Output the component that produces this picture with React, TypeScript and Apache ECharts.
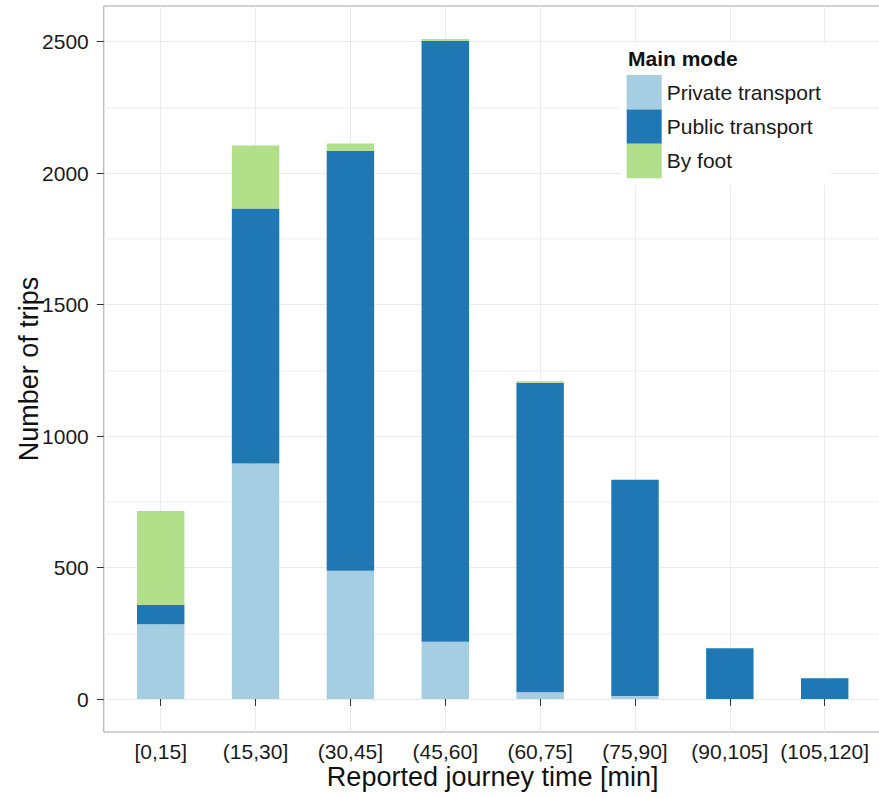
import React, { useEffect, useRef } from "react";
import * as echarts from "echarts";

// ---- data ----
const categories = ["[0,15]", "(15,30]", "(30,45]", "(45,60]", "(60,75]", "(75,90]", "(90,105]", "(105,120]"];
const seriesNames = ["Private transport", "Public transport", "By foot"];
const privateTransport = [284, 896, 488, 218, 26, 11, 0, 0];
const publicTransport = [74, 970, 1597, 2286, 1177, 822, 193, 79];
const byFoot = [357, 239, 28, 6, 6, 3, 0, 0];
const yTickMax = 3000;
const yTickStep = 500;

// ---- layout / style ----
const FONT = "'Liberation Sans', Arial, Helvetica, sans-serif";
const COLORS = ["#a6cee3", "#1f78b4", "#b2df8a"];
const PANEL_LEFT = 103.8;
const PANEL_RIGHT = 881.6;
const PANEL_TOP = 6;
const PANEL_BOTTOM = 732;
const ZERO_Y = 699;
const Y2500 = 41.7;
const K = (ZERO_Y - Y2500) / 2500; // px per unit
const FIRST_X = 160.7;
const STEP = 94.857;

export default function App() {
  const ref = useRef<HTMLDivElement>(null);

  useEffect(() => {
    if (!ref.current) return;
    const chart = echarts.init(ref.current, null, { renderer: "svg" });

    const textColor = "#1a1a1a";
    const gridA = {
      left: PANEL_LEFT,
      width: PANEL_RIGHT - PANEL_LEFT,
      top: ZERO_Y - yTickMax * K,
      height: yTickMax * K,
      outerBoundsMode: "none",
    };
    const gridB = {
      left: FIRST_X,
      width: STEP * (categories.length - 1),
      top: PANEL_TOP,
      height: PANEL_BOTTOM - PANEL_TOP,
      outerBoundsMode: "none",
    };
    const gridD = {
      left: PANEL_LEFT,
      width: PANEL_RIGHT - PANEL_LEFT,
      top: PANEL_TOP,
      height: PANEL_BOTTOM - PANEL_TOP,
      show: true,
      borderColor: "#a3a3a3",
      borderWidth: 1,
      backgroundColor: "transparent",
      outerBoundsMode: "none",
    };

    const mk = (name: string, data: number[], i: number) => ({
      name,
      type: "bar",
      stack: "total",
      xAxisIndex: 2,
      yAxisIndex: 2,
      data,
      barWidth: "50%",
      clip: false,
      itemStyle: { color: COLORS[i] },
      emphasis: { disabled: true },
    });

    chart.setOption({
      animation: false,
      textStyle: { fontFamily: FONT },
      title: {
        text: "Main mode",
        left: 628,
        top: 48,
        padding: 0,
        textStyle: { fontFamily: FONT, fontSize: 21, fontWeight: "bold", color: "#111" },
      },
      legend: {
        orient: "vertical",
        left: 620,
        top: 43,
        padding: [32, 9, 7, 6.7],
        itemGap: 0,
        itemWidth: 35,
        itemHeight: 34.4,
        icon: "rect",
        backgroundColor: "#ffffff",
        selectedMode: false,
        data: seriesNames,
        textStyle: { fontFamily: FONT, fontSize: 21, color: textColor },
      },
      grid: [gridD, gridA, gridB],
      xAxis: [
        {
          gridIndex: 0,
          type: "value",
          name: "Reported journey time [min]",
          nameLocation: "middle",
          nameGap: 31,
          nameTextStyle: { fontFamily: FONT, fontSize: 27, color: "#111" },
          axisLine: { show: false },
          axisTick: { show: false },
          axisLabel: { show: false },
          splitLine: { show: false },
        },
        { gridIndex: 1, type: "value", show: false },
        {
          gridIndex: 2,
          type: "category",
          data: categories,
          boundaryGap: false,
          axisLine: { show: false },
          axisTick: { show: true, length: 7, lineStyle: { color: "#333", width: 1 } },
          axisLabel: { interval: 0, fontSize: 21, color: textColor, margin: 9, fontFamily: FONT },
          splitLine: { show: true, lineStyle: { color: "#ebebeb", width: 1 } },
        },
      ],
      yAxis: [
        {
          gridIndex: 0,
          type: "value",
          name: "Number of trips",
          nameLocation: "middle",
          nameGap: 61,
          nameTextStyle: { fontFamily: FONT, fontSize: 27, color: "#111" },
          axisLine: { show: false },
          axisTick: { show: false },
          axisLabel: { show: false },
          splitLine: { show: false },
        },
        {
          gridIndex: 1,
          type: "value",
          min: 0,
          max: yTickMax,
          interval: yTickStep,
          axisLine: { show: false },
          axisTick: { show: true, length: 7, lineStyle: { color: "#333", width: 1 } },
          axisLabel: {
            fontSize: 21,
            color: textColor,
            margin: 15,
            fontFamily: FONT,
            showMaxLabel: false,
            formatter: (v: number) => String(v),
          },
          splitLine: { show: true, lineStyle: { color: "#ebebeb", width: 1 } },
          minorTick: { show: false, splitNumber: 2 },
          minorSplitLine: { show: true, lineStyle: { color: "#f3f3f3", width: 1.5 } },
        },
        {
          gridIndex: 2,
          type: "value",
          min: -(PANEL_BOTTOM - ZERO_Y) / K,
          max: (ZERO_Y - PANEL_TOP) / K,
          show: false,
        },
      ],
      series: [
        mk(seriesNames[0], privateTransport, 0),
        mk(seriesNames[1], publicTransport, 1),
        mk(seriesNames[2], byFoot, 2),
      ],
    });

    return () => chart.dispose();
  }, []);

  return (
    <div
      ref={ref}
      style={{ position: "absolute", left: 0, top: 0, width: 879, height: 798, background: "#fff" }}
    />
  );
}
